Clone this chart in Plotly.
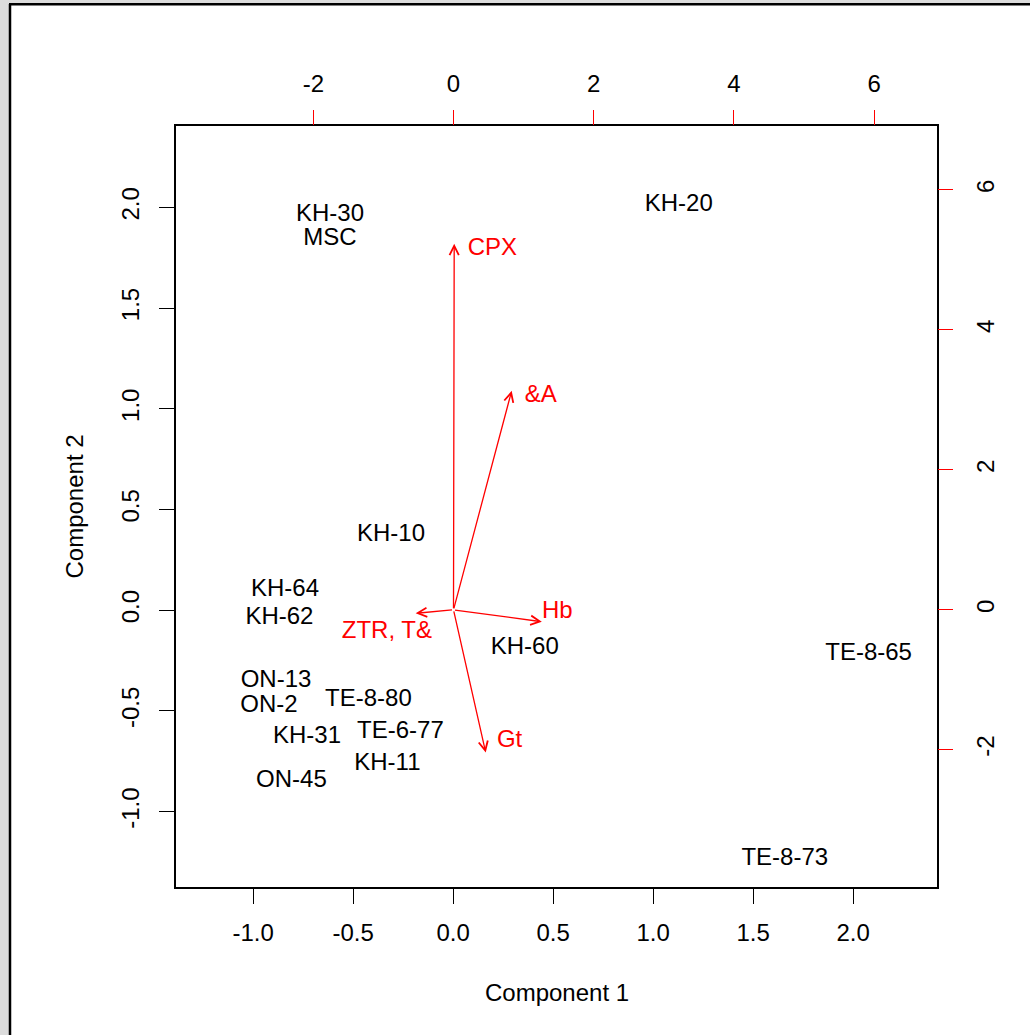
import plotly.graph_objects as go

# ---- data ----
samples = ["KH-30", "MSC", "KH-20", "KH-10", "KH-64", "KH-62", "KH-60", "TE-8-65",
           "ON-13", "ON-2", "TE-8-80", "KH-31", "TE-6-77", "KH-11", "ON-45", "TE-8-73"]
comp1 = [-0.616, -0.616, 1.128, -0.311, -0.841, -0.869, 0.358, 2.077,
         -0.886, -0.921, -0.424, -0.731, -0.264, -0.329, -0.809, 1.658]
comp2 = [1.963, 1.844, 2.010, 0.375, 0.102, -0.037, -0.186, -0.216,
         -0.350, -0.474, -0.447, -0.628, -0.603, -0.762, -0.846, -1.236]

variables = ["CPX", "&A", "Hb", "Gt", "ZTR, T&"]
load1 = [0.01, 0.83, 1.26, 0.46, -0.54]      # arrow tips (secondary axes)
load2 = [5.23, 3.13, -0.17, -2.04, -0.05]
lab1 = [0.555, 1.246, 1.48, 0.80, -0.95]     # variable label centres (secondary axes)
lab2 = [5.157, 3.05, -0.03, -1.87, -0.31]

x_ticks = [-1.0, -0.5, 0.0, 0.5, 1.0, 1.5, 2.0]
y_ticks = [-1.0, -0.5, 0.0, 0.5, 1.0, 1.5, 2.0]
x2_ticks = [-2, 0, 2, 4, 6]
y2_ticks = [-2, 0, 2, 4, 6]

x_range = [-1.386, 2.419]
y_range = [-1.374, 2.404]
x2_range = [-3.959, 6.898]
y2_range = [-3.961, 6.914]

# ---- layout constants ----
W, H = 1030, 1035
ML, MR, MT, MB = 176, 93, 126, 148
PW = W - ML - MR
PH = H - MT - MB
FONT = "Liberation Sans, Arial, Helvetica, sans-serif"
FS = 24
RED = "#FF0000"


def px2paper_x(px):
    return (px - ML) / PW


def px2paper_y(py):
    return (H - MB - py) / PH


fig = go.Figure()

fig.add_trace(go.Scatter(
    x=comp1, y=comp2, text=samples, mode="text",
    textfont=dict(family=FONT, size=FS, color="black"),
    textposition="middle center", hoverinfo="text", showlegend=False,
    xaxis="x", yaxis="y"))

fig.add_trace(go.Scatter(
    x=lab1, y=lab2, text=variables, mode="text",
    textfont=dict(family=FONT, size=FS, color=RED),
    textposition="middle center", hoverinfo="text", showlegend=False,
    xaxis="x2", yaxis="y2"))

annotations = []
for vx, vy in zip(load1, load2):
    annotations.append(dict(
        x=vx, y=vy, xref="x2", yref="y2",
        ax=0, ay=0, axref="x2", ayref="y2",
        text="", showarrow=True, arrowhead=5, arrowsize=1.4,
        arrowwidth=1.3, arrowcolor=RED, standoff=0, startstandoff=0))

annotations.append(dict(
    x=0.5, y=px2paper_y(992), xref="paper", yref="paper",
    text="Component 1", showarrow=False, xanchor="center", yanchor="middle",
    font=dict(family=FONT, size=FS, color="black")))
annotations.append(dict(
    x=px2paper_x(74), y=0.5, xref="paper", yref="paper",
    text="Component 2", showarrow=False, xanchor="center", yanchor="middle",
    textangle=-90, font=dict(family=FONT, size=FS, color="black")))

shapes = [
    # grey surround and black frame of the image
    dict(type="rect", xref="paper", yref="paper",
         x0=px2paper_x(0), x1=px2paper_x(9), y0=px2paper_y(H), y1=px2paper_y(0),
         fillcolor="#dcdcdc", line=dict(width=0), layer="below"),
    dict(type="rect", xref="paper", yref="paper",
         x0=px2paper_x(0), x1=px2paper_x(W), y0=px2paper_y(3), y1=px2paper_y(0),
         fillcolor="#dcdcdc", line=dict(width=0), layer="below"),
    dict(type="line", xref="paper", yref="paper",
         x0=px2paper_x(10), x1=px2paper_x(10), y0=px2paper_y(H), y1=px2paper_y(4),
         line=dict(color="black", width=2.5)),
    dict(type="line", xref="paper", yref="paper",
         x0=px2paper_x(9), x1=px2paper_x(W), y0=px2paper_y(4.3), y1=px2paper_y(4.3),
         line=dict(color="black", width=2.5)),
]

axis_common = dict(showgrid=False, zeroline=False, ticks="outside", ticklen=15,
                   tickwidth=1.3, automargin=False,
                   tickfont=dict(family=FONT, size=FS, color="black"))

fig.update_layout(
    width=W, height=H, autosize=False,
    margin=dict(l=ML, r=MR, t=MT, b=MB, pad=0, autoexpand=False),
    paper_bgcolor="white", plot_bgcolor="white",
    showlegend=False,
    font=dict(family=FONT, size=FS, color="black"),
    xaxis=dict(range=x_range, tickvals=x_ticks,
               ticktext=[f"{v:.1f}" for v in x_ticks],
               showline=True, mirror=True, linecolor="black", linewidth=1.5,
               tickcolor="black", ticklabelstandoff=8, **axis_common),
    yaxis=dict(range=y_range, tickvals=y_ticks,
               ticktext=[f"{v:.1f}" for v in y_ticks], tickangle=-90,
               showline=True, mirror=True, linecolor="black", linewidth=1.5,
               tickcolor="black", ticklabelstandoff=11, **axis_common),
    xaxis2=dict(range=x2_range, tickvals=x2_ticks,
                ticktext=[str(v) for v in x2_ticks],
                overlaying="x", side="top", anchor="y", showline=False,
                tickcolor=RED, ticklabelstandoff=8, **axis_common),
    yaxis2=dict(range=y2_range, tickvals=y2_ticks,
                ticktext=[str(v) for v in y2_ticks], tickangle=-90,
                overlaying="y", side="right", anchor="x", showline=False,
                tickcolor=RED, ticklabelstandoff=12, **axis_common),
    annotations=annotations,
    shapes=shapes,
)

fig.write_html("out.html", config={"displayModeBar": False},
               post_script="document.body.style.margin='0';document.body.style.overflow='hidden';")
